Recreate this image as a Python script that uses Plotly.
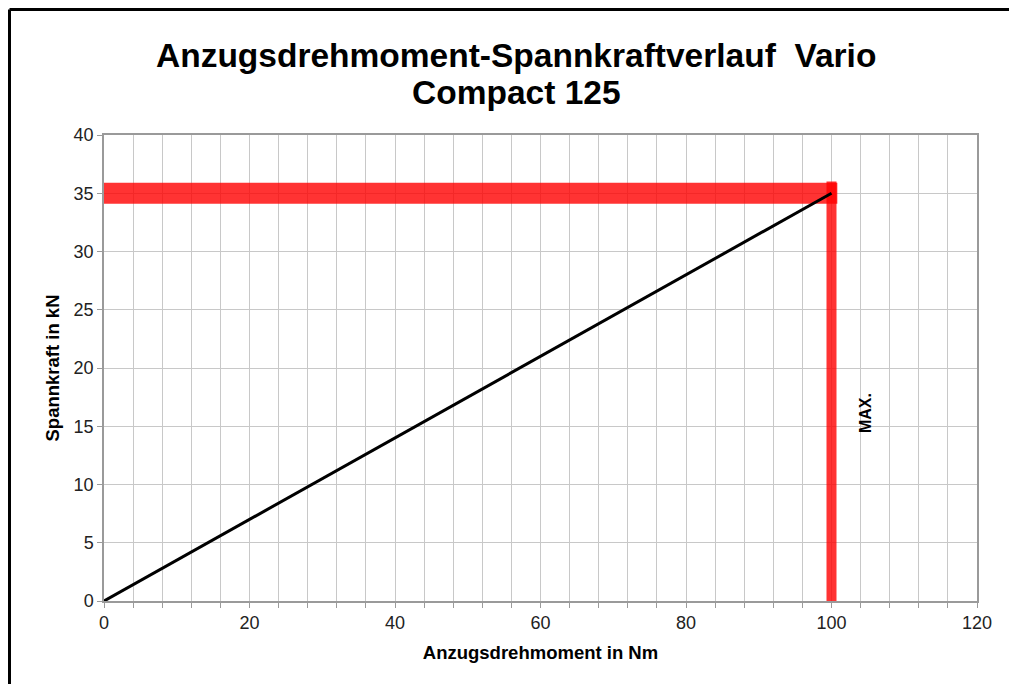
import plotly.graph_objects as go

# Data
torque_nm = [0, 100]
clamp_kn = [0, 35]
max_torque = 100
max_force = 35
x_ticks = [0, 20, 40, 60, 80, 100, 120]
y_ticks = [0, 5, 10, 15, 20, 25, 30, 35, 40]
title_lines = ["Anzugsdrehmoment-Spannkraftverlauf  Vario", "Compact 125"]

W, H = 1009, 676
L, T = 96, 127
pw, ph = 873, 466
R, B = W - L - pw, H - T - ph

def px(xp):
    return (xp - L) / pw

def py(yp):
    return (H - B - yp) / ph

FONT = "Liberation Sans, Arial"

fig = go.Figure()

red = "rgba(255,0,0,0.8)"
fig.add_trace(go.Scatter(x=[0, max_torque + 0.8], y=[max_force, max_force], mode="lines",
                         line=dict(color=red, width=21), hoverinfo="skip", showlegend=False))
fig.add_trace(go.Scatter(x=[max_torque, max_torque], y=[max_force + 1.0, 0], mode="lines",
                         line=dict(color=red, width=10), hoverinfo="skip", showlegend=False))
fig.add_trace(go.Scatter(x=torque_nm, y=clamp_kn, mode="lines",
                         line=dict(color="black", width=3), showlegend=False))

fig.add_annotation(x=104.7, y=16.1, text="<b>MAX.</b>", textangle=-90, showarrow=False,
                   font=dict(family=FONT, size=16, color="black"))

# title lines
for i, (line, yc) in enumerate(zip(title_lines, [47, 85])):
    fig.add_annotation(xref="paper", yref="paper", x=px(508), y=py(yc), xanchor="center",
                       yanchor="middle", text="<b>" + line + "</b>", showarrow=False,
                       font=dict(family=FONT, size=33.5, color="black"))

# page frame (top and left edges)
fig.add_shape(type="line", xref="paper", yref="paper",
              x0=px(1.5), x1=px(W + 5), y0=py(1.5), y1=py(1.5),
              line=dict(color="black", width=3))
fig.add_shape(type="line", xref="paper", yref="paper",
              x0=px(1.5), x1=px(1.5), y0=py(1.5), y1=py(H + 5),
              line=dict(color="black", width=3))

axis_common = dict(showline=True, linecolor="#9a9a9a", linewidth=1.5, mirror=True,
                   gridcolor="#c8c8c8", gridwidth=1, zeroline=False,
                   ticks="outside", ticklen=5, tickcolor="#9a9a9a",
                   tickfont=dict(family=FONT, size=18, color="#222"))

fig.update_xaxes(range=[0, 120], tickvals=x_ticks,
                 minor=dict(dtick=4, showgrid=True, gridcolor="#c8c8c8", ticks="outside",
                            ticklen=5, tickcolor="#9a9a9a"),
                 title=dict(text="<b>Anzugsdrehmoment in Nm</b>", standoff=14,
                            font=dict(family=FONT, size=18.5, color="black")),
                 **axis_common)
fig.update_yaxes(range=[0, 40], tickvals=y_ticks,
                 title=dict(text="<b>Spannkraft in kN</b>", standoff=9,
                            font=dict(family=FONT, size=18.5, color="black")),
                 **axis_common)

fig.update_layout(
    width=W, height=H,
    margin=dict(l=L, r=R, t=T, b=B),
    paper_bgcolor="white", plot_bgcolor="white",
)

fig.write_html("out.html")
